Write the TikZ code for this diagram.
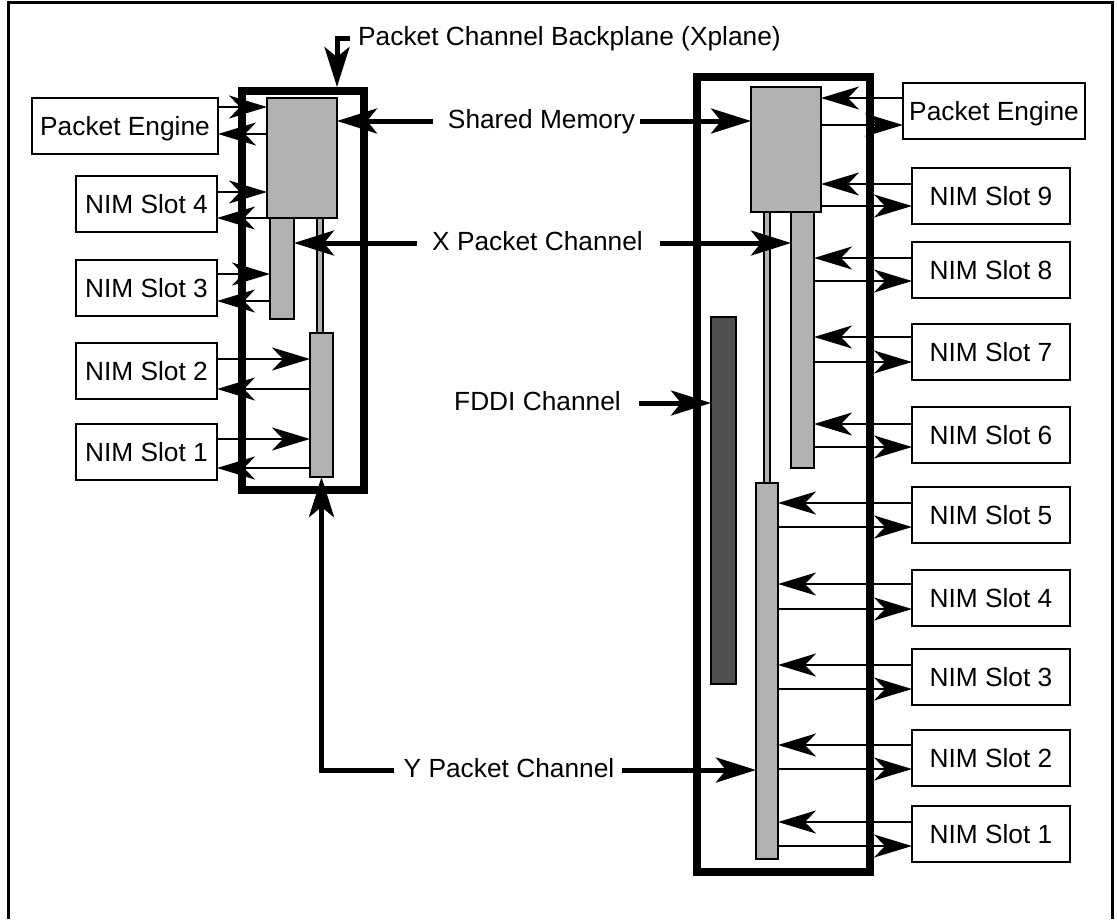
\documentclass[tikz,border=0pt]{standalone}
\usepackage{fontspec}
\setmainfont{Liberation Sans}
\usetikzlibrary{arrows.meta}
\definecolor{bargray}{gray}{0.7}
\definecolor{fddigray}{gray}{0.31}
\begin{document}
\begin{tikzpicture}[x=1pt,y=-1pt,
        font=\fontsize{26.3}{30}\selectfont,
        thin arr/.style={-{Stealth[length=38pt,width=23pt,inset=11pt]},line width=2.3pt},
        thick arr/.style={-{Stealth[length=40pt,width=25pt,inset=10pt]},line width=5pt},
        plane/.style={draw,line width=8pt,inner sep=0pt,outer sep=0pt},
        bar/.style={draw,fill=bargray,line width=2.5pt,inner sep=0pt,outer sep=0pt},
        slot/.style={draw,line width=2.5pt,inner sep=0pt,outer sep=0pt,
                minimum height=56pt,text height=19pt,text depth=0pt},
        lbl/.style={inner sep=0pt,text height=19pt,text depth=5pt}]
        \useasboundingbox (0,0) rectangle (1117,919);
        \draw[line width=3pt] (8,919) -- (8,2) -- (1112,2) -- (1112,919);
        \node[plane,minimum width=122pt,minimum height=399pt] (lplane) at (303,290.5) {};
        \node[plane,minimum width=173pt,minimum height=795pt] (rplane) at (783.5,474.5) {};
        \node[bar,minimum width=6pt,minimum height=115pt] (lthin) at (320,275.5) {};
        \node[bar,minimum width=70pt,minimum height=120pt] (lmem) at (302,158) {};
        \node[bar,minimum width=24pt,minimum height=101pt] (lxbar) at (282,268.5) {};
        \node[bar,minimum width=23pt,minimum height=144pt] (lybar) at (321.5,405) {};
        \node[bar,minimum width=6pt,minimum height=271pt] (rthin) at (767,347.5) {};
        \node[bar,minimum width=70pt,minimum height=125pt] (rmem) at (786,149.5) {};
        \node[bar,minimum width=23pt,minimum height=256pt] (rxbar) at (802.5,340) {};
        \node[bar,minimum width=22pt,minimum height=376pt] (rybar) at (767,671) {};
        \node[bar,fill=fddigray,minimum width=25pt,minimum height=367pt] (fddi) at (723.5,500.5) {};
        \node[slot,minimum width=186pt] (lpe) at (125,126) {Packet Engine};
        \foreach \n/\y in {4/204,3/288,2/371,1/452}
                \node[slot,minimum width=141pt] (l\n) at (146.5,\y) {NIM Slot \n};
        \node[slot,minimum width=182pt] (rpe) at (994,111) {Packet Engine};
        \foreach \n/\y in {9/196,8/270,7/352,6/435,5/515,4/598,3/677,2/758,1/834}
                \node[slot,minimum width=158pt] (r\n) at (991,\y) {NIM Slot \n};
        \foreach \b/\t/\yi/\yo in {lpe/lmem/107/134,l4/lmem/192/218,l3/lxbar/274/301,
                        l2/lybar/359/389,l1/lybar/439/468} {
                \draw[thin arr] (\b.east |- 0,\yi) -- (\t.west |- 0,\yi);
                \draw[thin arr] (\t.west |- 0,\yo) -- (\b.east |- 0,\yo);
        }
        \foreach \b/\t/\yi/\yo in {rpe/rmem/98/125,r9/rmem/184/206,r8/rxbar/258/281,
                        r7/rxbar/337/362,r6/rxbar/424/447,r5/rybar/503/527,r4/rybar/584/609,
                        r3/rybar/665/689,r2/rybar/745/769,r1/rybar/822/846} {
                \draw[thin arr] (\b.west |- 0,\yi) -- (\t.east |- 0,\yi);
                \draw[thin arr] (\t.east |- 0,\yo) -- (\b.west |- 0,\yo);
        }
        \node[lbl,anchor=west] (bpl) at (358,38) {Packet Channel Backplane (Xplane)};
        \draw[thick arr] ([xshift=-8pt]bpl.west) -- (lmem.east |- bpl) -- ([yshift=4pt]lmem.east |- lplane.north);
        \node[lbl] (sm) at (541.5,121) {Shared Memory};
        \draw[thick arr] ([xshift=-15pt]sm.west) -- (lmem.east |- sm);
        \draw[thick arr] ([xshift=5pt]sm.east) -- (rmem.west |- sm);
        \node[lbl] (xpc) at (537.5,243) {X Packet Channel};
        \draw[thick arr] ([xshift=-15pt]xpc.west) -- (lxbar.east |- xpc);
        \draw[thick arr] ([xshift=17pt]xpc.east) -- (rxbar.west |- xpc);
        \node[lbl] (fdl) at (537.5,403) {FDDI Channel};
        \draw[thick arr] ([xshift=18pt]fdl.east) -- (fddi.west |- fdl);
        \node[lbl] (ypc) at (509,770) {Y Packet Channel};
        \draw[thick arr] ([xshift=8pt]ypc.east) -- (rybar.west |- ypc);
        \draw[thick arr] ([xshift=-10pt]ypc.west) -| (lybar.south);
\end{tikzpicture}
\end{document}
